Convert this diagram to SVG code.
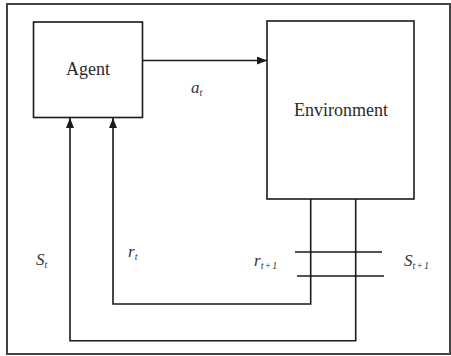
<svg xmlns="http://www.w3.org/2000/svg" width="451" height="356" viewBox="0 0 451 356">
<style>
.box{fill:#fff;stroke:#1a1a1a;stroke-width:1.6}
.ln{fill:none;stroke:#1a1a1a;stroke-width:1.6}
.lbl{font-family:"Liberation Serif","Times New Roman",serif;font-size:18px;fill:#2a2a2a}
.it{font-family:"Liberation Serif","Times New Roman",serif;font-style:italic;font-size:17px;fill:#333}
.sub{font-size:10px;letter-spacing:1px}
</style>
<defs>
<marker id="ah" viewBox="0 0 10 8" refX="10" refY="4" markerWidth="10" markerHeight="8" markerUnits="userSpaceOnUse" orient="auto">
<path d="M0,0 L10,4 L0,8 Z" fill="#1a1a1a"/>
</marker>
</defs>
<rect x="0" y="0" width="451" height="356" fill="#fff"/>
<rect x="7" y="4" width="443" height="350" fill="none" stroke="#444" stroke-width="2"/>
<g id="connectors">
<path class="ln" d="M143,60.5 H267" marker-end="url(#ah)"/>
<path class="ln" d="M310.7,199 V304 H113 V118" marker-end="url(#ah)"/>
<path class="ln" d="M355.7,199 V340.7 H70 V118" marker-end="url(#ah)"/>
<path class="ln" d="M295,252 H382"/>
<path class="ln" d="M297,276 H384"/>
<text class="it" x="191" y="93">a<tspan class="sub" dy="3">t</tspan></text>
<text class="it" x="36" y="265">S<tspan class="sub" dy="3">t</tspan></text>
<text class="it" x="128" y="257">r<tspan class="sub" dy="3">t</tspan></text>
<text class="it" x="254" y="266">r<tspan class="sub" dy="3">t+1</tspan></text>
<text class="it" x="404" y="266">S<tspan class="sub" dy="3">t+1</tspan></text>
</g>
<g id="agent">
<rect class="box" x="33.5" y="22" width="109" height="95.5"/>
<text class="lbl" x="88" y="75" text-anchor="middle">Agent</text>
</g>
<g id="environment">
<rect class="box" x="267" y="21" width="147" height="178"/>
<text class="lbl" x="341" y="116" text-anchor="middle">Environment</text>
</g>
</svg>
